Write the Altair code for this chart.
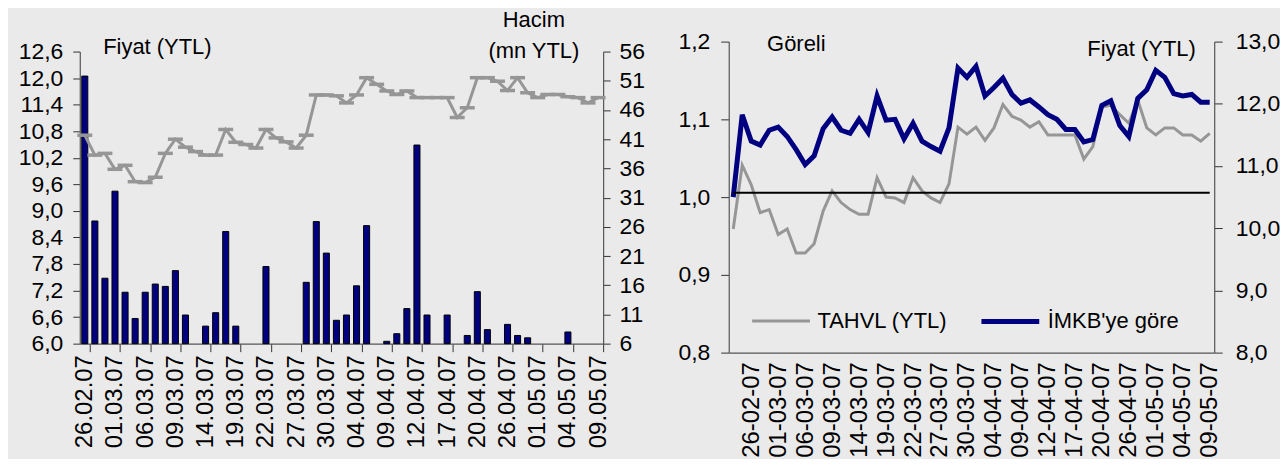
import altair as alt
import pandas as pd

# ---------------- data ----------------
dates = ["22.02.07", "23.02.07", "26.02.07", "27.02.07", "28.02.07", "01.03.07", "02.03.07",
         "05.03.07", "06.03.07", "07.03.07", "08.03.07", "09.03.07", "12.03.07", "13.03.07",
         "14.03.07", "15.03.07", "16.03.07", "19.03.07", "20.03.07", "21.03.07", "22.03.07",
         "23.03.07", "26.03.07", "27.03.07", "28.03.07", "29.03.07", "30.03.07", "02.04.07",
         "03.04.07", "04.04.07", "05.04.07", "06.04.07", "09.04.07", "10.04.07", "11.04.07",
         "12.04.07", "13.04.07", "16.04.07", "17.04.07", "18.04.07", "19.04.07", "20.04.07",
         "24.04.07", "25.04.07", "26.04.07", "27.04.07", "30.04.07", "01.05.07", "02.05.07",
         "03.05.07", "04.05.07", "07.05.07", "08.05.07", "09.05.07"]

# left panel: price (YTL) and volume (mn YTL), from 26.02.07
price = [10.71, 10.26, 10.30, 9.94, 10.03, 9.66, 9.64, 9.76, 10.30, 10.62,
         10.44, 10.34, 10.26, 10.26, 10.84, 10.55, 10.50, 10.42, 10.84, 10.65,
         10.56, 10.42, 10.71, 11.62, 11.62, 11.60, 11.44, 11.62, 12.01, 11.86,
         11.71, 11.63, 11.71, 11.56, 11.56, 11.56, 11.56, 11.11, 11.33, 12.01,
         12.01, 11.93, 11.72, 12.01, 11.67, 11.56, 11.63, 11.63, 11.58, 11.56,
         11.44, 11.56]
volume = [51.8, 27.0, 17.2, 32.1, 14.8, 10.3, 14.8, 16.2, 15.8, 18.5,
          10.9, None, 9.0, 11.3, 25.2, 9.0, None, None, 19.2, None,
          None, None, 16.5, 26.9, 21.5, 10.0, 10.9, 15.9, 26.2, None,
          6.4, 7.7, 12.0, 40.0, 10.9, None, 10.9, None, 7.4, 14.9,
          8.4, None, 9.3, 7.4, 7.0, None, None, None, 8.0, None,
          None, None]

# right panel: relative performance
tahvl = [0.959, 1.041, 1.016, 0.980, 0.984, 0.952, 0.959, 0.928, 0.928, 0.940,
         0.982, 1.008, 0.993, 0.984, 0.978, 0.978, 1.025, 1.000, 0.999, 0.993,
         1.025, 1.008, 0.999, 0.993, 1.017, 1.090, 1.081, 1.090, 1.073, 1.089,
         1.119, 1.104, 1.099, 1.090, 1.097, 1.080, 1.080, 1.080, 1.080, 1.049,
         1.065, 1.116, 1.118, 1.106, 1.095, 1.125, 1.089, 1.080, 1.089, 1.089,
         1.080, 1.080, 1.072, 1.082]
imkb = [1.000, 1.106, 1.072, 1.067, 1.086, 1.090, 1.078, 1.061, 1.042, 1.053,
        1.088, 1.103, 1.086, 1.082, 1.100, 1.083, 1.130, 1.099, 1.100, 1.075,
        1.095, 1.072, 1.065, 1.059, 1.089, 1.166, 1.154, 1.168, 1.130, 1.141,
        1.153, 1.132, 1.121, 1.125, 1.116, 1.106, 1.100, 1.087, 1.087, 1.071,
        1.074, 1.118, 1.124, 1.092, 1.078, 1.127, 1.138, 1.163, 1.154, 1.133,
        1.130, 1.132, 1.122, 1.122]
series_names = ["TAHVL (YTL)", "İMKB'ye göre"]
ref_price = [10.57]

price_ticks = [6.0, 6.6, 7.2, 7.8, 8.4, 9.0, 9.6, 10.2, 10.8, 11.4, 12.0, 12.6]
volume_ticks = [6, 11, 16, 21, 26, 31, 36, 41, 46, 51, 56]
rel_ticks = [0.8, 0.9, 1.0, 1.1, 1.2]
fiyat_ticks = [8, 9, 10, 11, 12, 13]

# ---------------- styles ----------------
NAVY = "#000080"
GRAY = "#969696"
BG = "#EAEAEA"
FONT = "Liberation Sans"
FS = 22
LFS = 23
XFS = 24
COMMA1 = "replace(format(datum.value, '.1f'), '.', ',')"

# ---------------- left panel ----------------
left_dates = dates[2:]
df_left = pd.DataFrame({"date": left_dates, "price": price, "volume": volume})

xl = alt.X("date:N",
           scale=alt.Scale(type="band", domain=left_dates, paddingInner=0.4, paddingOuter=0.2),
           axis=alt.Axis(values=left_dates[::3], labelAngle=-90, tickOffset=5, labelOffset=-5,
                         tickSize=8, labelPadding=3, labelFontSize=XFS, title=None))

bars = alt.Chart(df_left).mark_bar(color=NAVY, stroke="black", strokeWidth=1).encode(
    x=xl,
    y=alt.Y("volume:Q",
            scale=alt.Scale(domain=[6, 56], range=[303, 10], nice=False, zero=False),
            axis=alt.Axis(orient="right", values=volume_ticks, tickSize=7, labelPadding=9,
                          title=["Hacim", "(mn YTL)"], titleAngle=0, titleX=-70, titleY=-14.7,
                          titleAlign="center", titleBaseline="alphabetic", titleLineHeight=30.5)),
    y2=alt.datum(6),
)

line = alt.Chart(df_left).mark_line(
    color=GRAY, strokeWidth=3,
    point=alt.OverlayMarkDef(shape="M-1,0L1,0", size=225, filled=False, color=GRAY, strokeWidth=3.5),
).encode(
    x=xl,
    y=alt.Y("price:Q",
            scale=alt.Scale(domain=[6.0, 12.6], range=[303, 10], nice=False, zero=False),
            axis=alt.Axis(orient="left", values=price_ticks, labelExpr=COMMA1, tickSize=7,
                          labelPadding=10, title="Fiyat (YTL)", titleAngle=0, titleX=23, titleY=11.5,
                          titleAlign="left", titleBaseline="alphabetic")),
)

left = alt.layer(bars, line).resolve_scale(y="independent").properties(width=525, height=303)

# ---------------- right panel ----------------
dates_dash = [d.replace(".", "-") for d in dates]
df_right = pd.DataFrame({
    "date": dates_dash * 2,
    "value": tahvl + imkb,
    "series": [series_names[0]] * len(tahvl) + [series_names[1]] * len(imkb),
})
df_rule = pd.DataFrame({"start": [dates_dash[0]], "end": [dates_dash[-1]], "level": ref_price})

xscale_r = alt.Scale(type="point", domain=dates_dash, padding=0.5)
xr_axis = alt.Axis(values=dates_dash[2::3], labelAngle=-90, ticks=False, labelPadding=9,
                   labelFontSize=XFS, title=None)

lines = alt.Chart(df_right).mark_line().encode(
    x=alt.X("date:N", scale=xscale_r, axis=xr_axis),
    y=alt.Y("value:Q",
            scale=alt.Scale(domain=[0.8, 1.2], nice=False, zero=False),
            axis=alt.Axis(orient="left", values=rel_ticks, labelExpr=COMMA1, tickSize=8,
                          labelPadding=11, title="Göreli", titleAngle=0, titleX=38, titleY=9,
                          titleAlign="left", titleBaseline="alphabetic")),
    color=alt.Color("series:N", scale=alt.Scale(domain=series_names, range=[GRAY, NAVY]),
                    legend=alt.Legend(title=None, orient="none", legendX=673, legendY=249,
                                      direction="horizontal", symbolType="stroke",
                                      symbolSize=3364, symbolStrokeWidth=4, labelFontSize=FS,
                                      labelFont=FONT, labelColor="black", labelOffset=6,
                                      columnPadding=23, labelLimit=0, padding=0)),
    strokeWidth=alt.StrokeWidth("series:N", scale=alt.Scale(domain=series_names, range=[3, 5]),
                                legend=None),
)

rule = alt.Chart(df_rule).mark_rule(color="black", strokeWidth=2).encode(
    x=alt.X("start:N", scale=xscale_r, axis=xr_axis),
    x2="end:N",
    y=alt.Y("level:Q",
            scale=alt.Scale(domain=[8, 13], nice=False, zero=False),
            axis=alt.Axis(orient="right", values=fiyat_ticks, labelExpr=COMMA1, tickSize=8,
                          labelPadding=13, title="Fiyat (YTL)", titleAngle=0, titleX=-19,
                          titleY=13.5, titleAlign="right", titleBaseline="alphabetic")),
)

right = alt.layer(lines, rule).resolve_scale(y="independent").properties(width=487, height=312)

chart = alt.hconcat(left, right, spacing=33).properties(
    padding={"left": 10, "top": 0, "right": 0, "bottom": 0}
).configure(
    background=BG, font=FONT
).configure_view(
    stroke=None
).configure_axis(
    labelFont=FONT, labelFontSize=LFS, labelColor="black",
    titleFont=FONT, titleFontSize=FS, titleFontWeight="normal", titleColor="black",
    domainColor="#555555", domainWidth=1.2, tickColor="#333333", tickWidth=1, grid=False,
    labelOverlap=False, labelBound=False, labelFlush=False,
)

chart.save("out.html", embed_options={"renderer": "svg", "actions": False})
